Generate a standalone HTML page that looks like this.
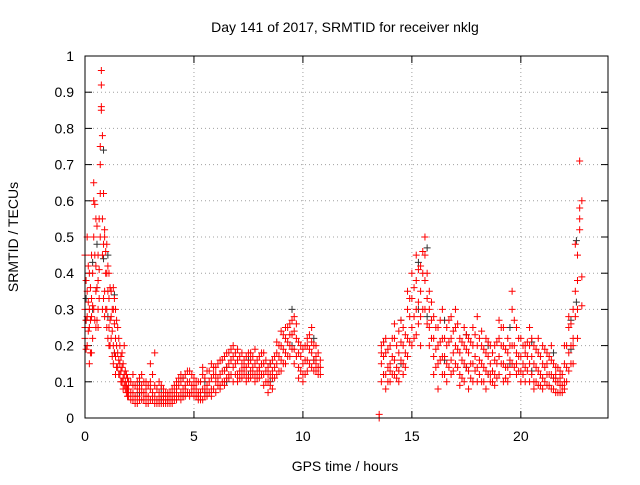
<!DOCTYPE html>
<html><head><meta charset="utf-8"><style>
body{margin:0;background:#fff}
svg{font-family:"Liberation Sans",sans-serif;font-size:14px}
</style></head><body>
<svg id="chart" width="640" height="480" xmlns="http://www.w3.org/2000/svg">
<text x="345" y="32" text-anchor="middle">Day 141 of 2017, SRMTID for receiver nklg</text>
<text x="345" y="471" text-anchor="middle">GPS time / hours</text>
<text transform="translate(18,237) rotate(-90)" text-anchor="middle">SRMTID / TECUs</text>
<g id="grid"></g><g id="ticks"></g><g id="black"></g><g id="red"></g>
<rect x="85" y="56" width="523" height="362" fill="none" stroke="#000"/>
</svg>
<script>
const xTicks=[0,5,10,15,20];
const yTicks=[0,0.1,0.2,0.3,0.4,0.5,0.6,0.7,0.8,0.9,1];
const yTickLabels=["0","0.1","0.2","0.3","0.4","0.5","0.6","0.7","0.8","0.9","1"];
const redHours=[0,0.1,0.2,0.3,0.4,0.5,0.6,0.7,0.75,0.8,0.9,1.0,1.1,1.2,1.3,1.4,1.5,1.6,1.7,1.8,1.9,2.0,2.2,2.4,2.6,2.8,3.0,3.2,3.4,3.6,3.8,4.0,4.2,4.4,4.6,4.8,5.0,5.2,5.4,5.6,5.8,6.0,6.2,6.4,6.6,6.8,7.0,7.2,7.4,7.6,7.8,8.0,8.2,8.4,8.6,8.8,9.0,9.2,9.4,9.6,9.8,10.0,10.2,10.4,10.6,10.8,13.5,13.6,13.8,14.0,14.2,14.4,14.6,14.8,15.0,15.2,15.4,15.6,15.8,16.0,16.2,16.4,16.6,16.8,17.0,17.2,17.4,17.6,17.8,18.0,18.2,18.4,18.6,18.8,19.0,19.2,19.4,19.6,19.8,20.0,20.2,20.4,20.6,20.8,21.0,21.2,21.4,21.6,21.8,22.0,22.2,22.4,22.5,22.6,22.7,22.8];
const redValues=[[0.30,0.25,0.45,0.22],[0.35,0.28,0.5,0.2],[0.4,0.3,0.15,0.25],[0.45,0.33,0.18,0.28],[0.6,0.65,0.5,0.3],[0.55,0.42,0.25,0.35],[0.45,0.38,0.3,0.25],[0.7,0.75,0.62,0.5],[0.96,0.92,0.86,0.85],[0.78,0.55,0.45,0.3],[0.5,0.52,0.35,0.28],[0.48,0.4,0.3,0.25],[0.4,0.33,0.25,0.2],[0.35,0.28,0.22],[0.36,0.3,0.2,0.15],[0.3,0.22,0.17,0.12],[0.25,0.18,0.14],[0.2,0.15,0.12],[0.18,0.14,0.1],[0.2,0.12,0.09],[0.12,0.09,0.07],[0.1,0.08,0.06],[0.09,0.07,0.05,0.12],[0.08,0.06,0.1,0.04],[0.07,0.05,0.09,0.12],[0.1,0.06,0.04,0.08],[0.15,0.08,0.05,0.1],[0.18,0.06,0.04,0.09],[0.07,0.05,0.04,0.1],[0.06,0.04,0.08,0.05],[0.05,0.04,0.07,0.06],[0.06,0.04,0.08,0.05],[0.08,0.05,0.1,0.06],[0.1,0.07,0.05,0.12],[0.09,0.06,0.12,0.08],[0.1,0.07,0.13,0.06],[0.08,0.06,0.11,0.09],[0.07,0.05,0.1,0.06],[0.12,0.08,0.05,0.14],[0.09,0.06,0.13,0.07],[0.11,0.08,0.15,0.06],[0.1,0.07,0.14,0.12],[0.12,0.09,0.16,0.08],[0.13,0.1,0.17,0.09],[0.15,0.11,0.18,0.12],[0.14,0.1,0.17,0.2],[0.16,0.12,0.1,0.19],[0.15,0.11,0.18,0.13],[0.14,0.12,0.17,0.1],[0.13,0.16,0.11,0.18],[0.15,0.12,0.19,0.1],[0.14,0.11,0.17,0.13],[0.12,0.15,0.09,0.18],[0.1,0.14,0.07,0.12],[0.13,0.16,0.11,0.08],[0.18,0.15,0.12,0.21],[0.2,0.16,0.24,0.13],[0.22,0.18,0.25,0.15],[0.26,0.2,0.17,0.23],[0.24,0.28,0.19,0.15],[0.18,0.14,0.21,0.11],[0.15,0.12,0.19,0.1],[0.2,0.16,0.13,0.22],[0.25,0.18,0.14,0.21],[0.17,0.13,0.2,0.15],[0.16,0.12,0.14],[0.0,0.01],[0.2,0.15,0.1,0.18],[0.18,0.12,0.08,0.22],[0.2,0.15,0.1,0.13],[0.22,0.16,0.12,0.26],[0.18,0.13,0.1,0.24],[0.25,0.2,0.15,0.12],[0.3,0.22,0.17,0.35],[0.4,0.33,0.25,0.2],[0.38,0.3,0.45,0.23],[0.35,0.28,0.42,0.2],[0.5,0.45,0.38,0.3],[0.3,0.25,0.2,0.35],[0.28,0.22,0.17,0.12],[0.25,0.2,0.15,0.08],[0.3,0.22,0.17,0.12],[0.25,0.2,0.15,0.1],[0.28,0.22,0.16,0.12],[0.3,0.2,0.15,0.25],[0.22,0.18,0.12,0.09],[0.2,0.15,0.1,0.25],[0.18,0.13,0.08,0.22],[0.25,0.2,0.15,0.1],[0.28,0.2,0.14,0.1],[0.2,0.15,0.1,0.24],[0.18,0.13,0.08,0.22],[0.15,0.1,0.2,0.12],[0.2,0.16,0.12,0.09],[0.22,0.17,0.12,0.27],[0.2,0.15,0.25,0.1],[0.18,0.14,0.22,0.1],[0.3,0.35,0.2,0.15],[0.25,0.18,0.12,0.15],[0.22,0.17,0.13,0.1],[0.18,0.14,0.1,0.2],[0.25,0.2,0.15,0.1],[0.2,0.15,0.1,0.08],[0.18,0.13,0.09,0.22],[0.2,0.15,0.11,0.08],[0.18,0.12,0.09,0.15],[0.16,0.12,0.08,0.2],[0.14,0.1,0.07,0.12],[0.13,0.09,0.07,0.11],[0.15,0.1,0.2,0.08],[0.25,0.18,0.13,0.28],[0.3,0.22,0.15,0.2],[0.48,0.35,0.28],[0.45,0.38,0.3,0.22],[0.55,0.58,0.52,0.71],[0.39,0.31,0.6]];
const redHours2=[0.05,0.15,0.25,0.35,0.45,0.55,0.65,0.85,0.95,1.05,1.15,1.25,1.35,1.45,1.55,1.65,1.75,1.85,1.95,2.1,2.3,2.5,2.7,2.9,3.1,3.3,3.5,3.7,3.9,4.1,4.3,4.5,4.7,4.9,5.1,5.3,5.5,5.7,5.9,6.1,6.3,6.5,6.7,6.9,7.1,7.3,7.5,7.7,7.9,8.1,8.3,8.5,8.7,8.9,9.1,9.3,9.5,9.7,9.9,10.1,10.3,10.5,10.7,13.7,13.9,14.1,14.3,14.5,14.7,14.9,15.1,15.3,15.5,15.7,15.9,16.1,16.3,16.5,16.7,16.9,17.1,17.3,17.5,17.7,17.9,18.1,18.3,18.5,18.7,18.9,19.1,19.3,19.5,19.7,19.9,20.1,20.3,20.5,20.7,20.9,21.1,21.3,21.5,21.7,21.9,22.1,22.3];
const redValues2=[[0.27,0.38,0.19],[0.32,0.24,0.42],[0.36,0.27,0.18],[0.31,0.4,0.22],[0.59,0.45,0.27],[0.53,0.36,0.27],[0.41,0.33,0.55],[0.62,0.48,0.33],[0.46,0.4,0.3],[0.42,0.35,0.22],[0.36,0.27,0.2],[0.3,0.24,0.17],[0.33,0.26,0.18],[0.27,0.2,0.14],[0.22,0.16,0.12],[0.17,0.13,0.1],[0.15,0.11,0.08],[0.13,0.1,0.08],[0.11,0.08,0.06],[0.1,0.07,0.05],[0.09,0.06,0.04],[0.08,0.05,0.11],[0.1,0.07,0.05],[0.09,0.06,0.04],[0.12,0.07,0.05],[0.08,0.05,0.04],[0.06,0.04,0.09],[0.05,0.04,0.07],[0.07,0.05,0.04],[0.07,0.05,0.09],[0.09,0.06,0.11],[0.11,0.08,0.06],[0.1,0.07,0.13],[0.09,0.07,0.12],[0.08,0.06,0.1],[0.1,0.07,0.05],[0.11,0.08,0.06],[0.1,0.07,0.13],[0.12,0.08,0.14],[0.11,0.09,0.15],[0.13,0.1,0.16],[0.14,0.11,0.18],[0.16,0.12,0.19],[0.15,0.12,0.18],[0.17,0.13,0.11],[0.14,0.12,0.16],[0.15,0.11,0.18],[0.14,0.12,0.17],[0.13,0.11,0.16],[0.15,0.12,0.18],[0.13,0.1,0.16],[0.12,0.09,0.15],[0.14,0.11,0.17],[0.17,0.13,0.2],[0.19,0.15,0.23],[0.21,0.17,0.25],[0.23,0.19,0.27],[0.22,0.17,0.26],[0.17,0.13,0.2],[0.16,0.12,0.2],[0.19,0.15,0.23],[0.2,0.16,0.13],[0.18,0.14,0.12],[0.17,0.12,0.21],[0.19,0.14,0.1],[0.17,0.12,0.22],[0.2,0.14,0.11],[0.21,0.16,0.27],[0.23,0.18,0.14],[0.28,0.21,0.33],[0.36,0.28,0.22],[0.41,0.32,0.26],[0.4,0.46,0.3],[0.4,0.33,0.26],[0.27,0.22,0.32],[0.25,0.19,0.14],[0.27,0.21,0.16],[0.22,0.17,0.12],[0.27,0.21,0.14],[0.24,0.18,0.13],[0.26,0.19,0.14],[0.21,0.16,0.11],[0.19,0.14,0.23],[0.21,0.15,0.11],[0.23,0.17,0.13],[0.22,0.16,0.12],[0.19,0.14,0.1],[0.17,0.12,0.21],[0.18,0.13,0.1],[0.21,0.15,0.11],[0.2,0.15,0.25],[0.19,0.14,0.11],[0.2,0.16,0.12],[0.27,0.2,0.14],[0.22,0.17,0.13],[0.2,0.15,0.12],[0.17,0.13,0.21],[0.22,0.17,0.12],[0.19,0.14,0.1],[0.17,0.12,0.09],[0.19,0.14,0.1],[0.17,0.12,0.09],[0.15,0.11,0.08],[0.14,0.1,0.07],[0.12,0.09,0.07],[0.2,0.14,0.1],[0.26,0.2,0.15]];
const blackHours=[0.05,0.35,0.55,0.85,1.05,1.35,2.5,3.5,4.5,5.5,6.5,7.5,8.5,9.5,10.5,13.7,14.5,15.3,15.7,16.5,17.5,18.5,19.5,20.5,21.5,22.3,22.55];
const blackValues=[[0.33,0.27],[0.43,0.3],[0.48,0.36],[0.74,0.44],[0.45,0.28],[0.34,0.18],[0.1,0.07],[0.08,0.05],[0.11,0.06],[0.1,0.07],[0.14,0.1],[0.16,0.12],[0.15,0.1],[0.3,0.2],[0.22,0.16],[0.21,0.12],[0.27,0.15],[0.43,0.3],[0.47,0.28],[0.27,0.16],[0.23,0.14],[0.2,0.12],[0.25,0.15],[0.21,0.13],[0.18,0.11],[0.27,0.19],[0.49,0.32]];
const NS="http://www.w3.org/2000/svg";
const X=h=>85+h*(523/24), Y=v=>418-v*362;
function mk(tag,attrs,parent){const e=document.createElementNS(NS,tag);for(const k in attrs)e.setAttribute(k,attrs[k]);parent.appendChild(e);return e;}
const grid=document.getElementById('grid'),ticks=document.getElementById('ticks');
yTicks.forEach((v,i)=>{
  if(i>0&&i<yTicks.length-1){const g=mk('line',{x1:85,x2:608,y1:Y(v),y2:Y(v),stroke:'#a0a0a0','stroke-dasharray':'1,3'},grid);
  
  }
  mk('line',{x1:85,x2:92,y1:Y(v),y2:Y(v),stroke:'#000'},ticks);
  mk('line',{x1:601,x2:608,y1:Y(v),y2:Y(v),stroke:'#000'},ticks);
  const t=mk('text',{x:74,y:Y(v)+5,'text-anchor':'end'},ticks);t.textContent=yTickLabels[i];
  
  
});
xTicks.forEach(h=>{
  if(h>0){const g=mk('line',{x1:X(h),x2:X(h),y1:56,y2:418,stroke:'#a0a0a0','stroke-dasharray':'1,3'},grid);
  
  }
  mk('line',{x1:X(h),x2:X(h),y1:418,y2:411,stroke:'#000'},ticks);
  mk('line',{x1:X(h),x2:X(h),y1:56,y2:63,stroke:'#000'},ticks);
  const t=mk('text',{x:X(h),y:441,'text-anchor':'middle'},ticks);t.textContent=String(h);
  
  
});
function plus(g,h,v,color,name){
  const x=X(h),y=Y(v);
  const p=mk('path',{d:`M${x-3.5},${y}H${x+3.5}M${x},${y-3.5}V${y+3.5}`,stroke:color,'stroke-width':1,fill:'none'},g);
  
  
}
const bg=document.getElementById('black'),rg=document.getElementById('red');
blackHours.forEach((h,i)=>blackValues[i].forEach(v=>plus(bg,h,v,'#333','black-point')));
redHours.forEach((h,i)=>redValues[i].forEach(v=>plus(rg,h,v,'#f00','red-point')));
redHours2.forEach((h,i)=>redValues2[i].forEach(v=>plus(rg,h,v,'#f00','red-point')));
</script>
</body></html>
